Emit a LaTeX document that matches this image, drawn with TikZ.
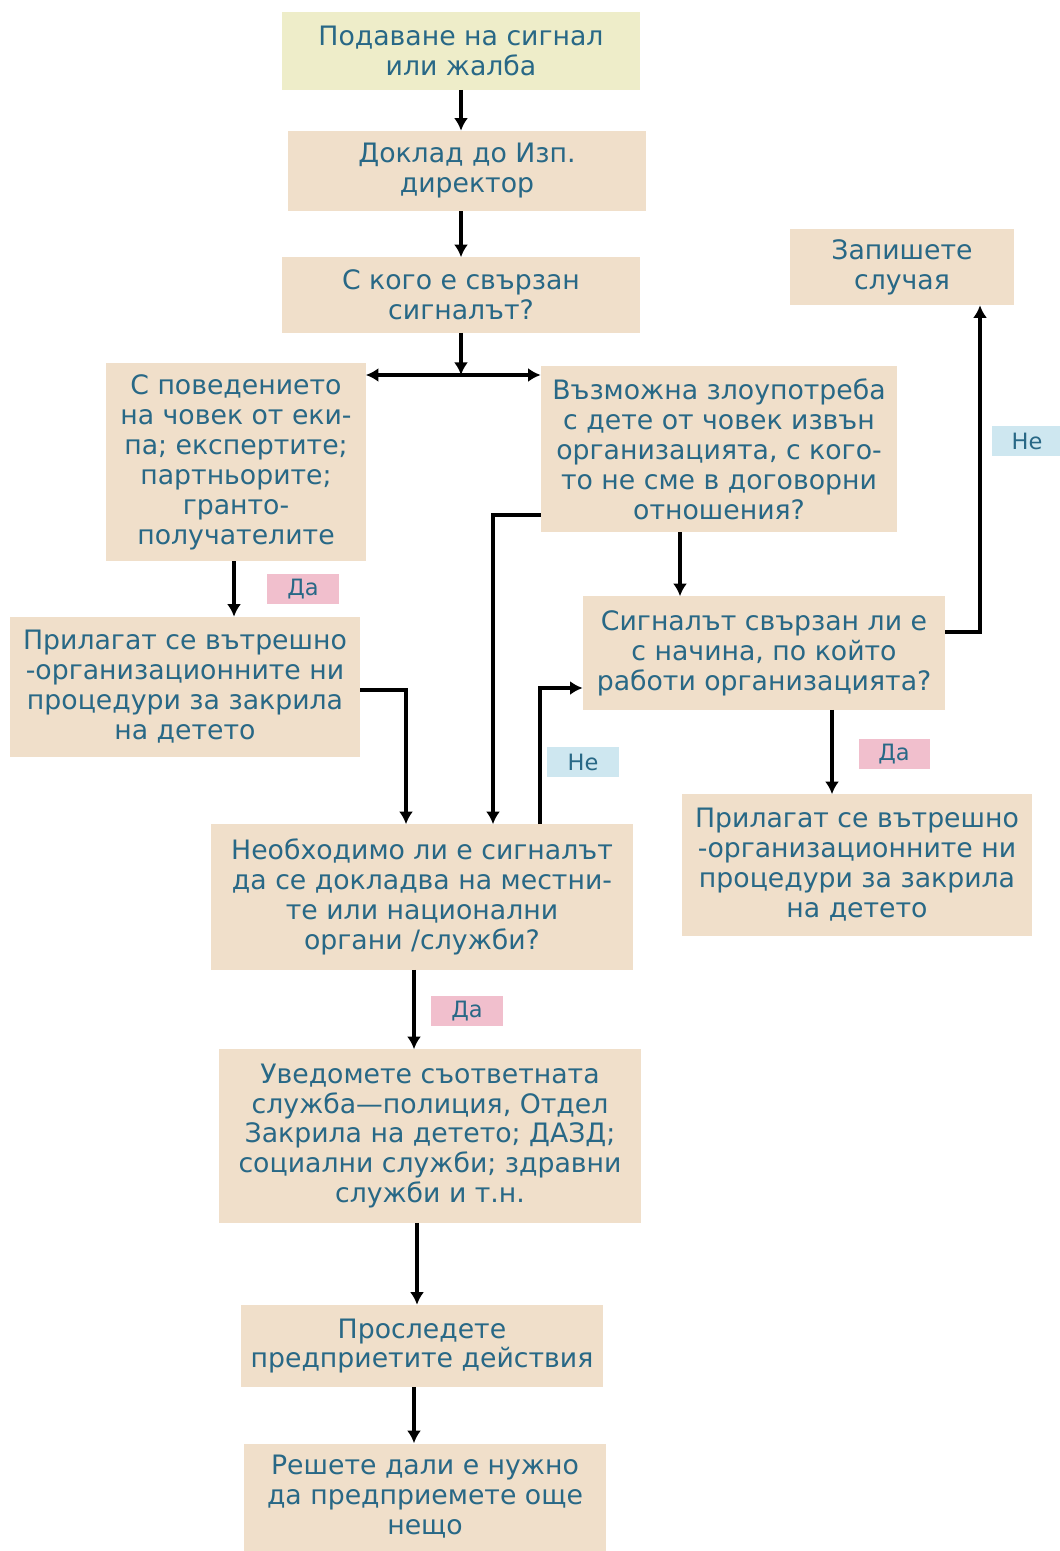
\documentclass[tikz,border=0pt]{standalone}
\usepackage{fontspec}
\setmainfont{DejaVu Sans}
\usetikzlibrary{arrows.meta}
\definecolor{boxfill}{RGB}{240,223,202}
\definecolor{startfill}{RGB}{238,237,201}
\definecolor{txtblue}{RGB}{40,104,134}
\definecolor{yesfill}{RGB}{241,191,205}
\definecolor{nofill}{RGB}{206,231,240}
\tikzset{
  stepbox/.style={fill=boxfill, text=txtblue, align=center, inner sep=0pt,
    font=\fontsize{19}{21.3}\selectfont},
  yes/.style={fill=yesfill, text=txtblue, inner sep=0pt, minimum width=1.775cm,
    minimum height=0.75cm, font=\fontsize{16}{18}\selectfont},
  no/.style={yes, fill=nofill},
  arr/.style={line width=2.4pt, -{Latex[length=9pt,width=10pt]}}
}
\begin{document}
\begin{tikzpicture}[x=0.025cm,y=-0.025cm]
  \useasboundingbox[fill=white] (0,0) rectangle (1059,1551);
  % boxes
  \node[stepbox, fill=startfill, minimum width=8.925cm, minimum height=1.925cm] (signal) at (461,51) {Подаване на сигнал\\или жалба};
  \node[stepbox, minimum width=8.925cm, minimum height=2cm] (director) at (467,171) {Доклад до Изп.\\директор};
  \node[stepbox, minimum width=8.925cm, minimum height=1.875cm] (who) at (461,295) {С кого е свързан\\сигналът?};
  \node[stepbox, minimum width=6.475cm, minimum height=4.95cm] (staff) at (236,462) {С поведението\\на човек от еки-\\па; експертите;\\партньорите;\\гранто-\\получателите};
  \node[stepbox, minimum width=8.9cm, minimum height=4.15cm] (extern) at (719,449) {Възможна злоупотреба\\с дете от човек извън\\организацията, с кого-\\то не сме в договорни\\отношения?};
  \node[stepbox, minimum width=5.575cm, minimum height=1.9cm] (record) at (902,267) {Запишете\\случая};
  \node[stepbox, minimum width=8.75cm, minimum height=3.5cm] (procA) at (185,687) {Прилагат се вътрешно\\-организационните ни\\процедури за закрила\\на детето};
  \node[stepbox, minimum width=9.05cm, minimum height=2.825cm] (check) at (764,653) {Сигналът свързан ли е\\с начина, по който\\работи организацията?};
  \node[stepbox, minimum width=8.75cm, minimum height=3.525cm] (procB) at (857,865) {Прилагат се вътрешно\\-организационните ни\\процедури за закрила\\на детето};
  \node[stepbox, minimum width=10.55cm, minimum height=3.625cm] (report) at (422,897) {Необходимо ли е сигналът\\да се докладва на местни-\\те или национални\\органи /служби?};
  \node[stepbox, minimum width=10.525cm, minimum height=4.325cm] (notify) at (430,1136) {Уведомете съответната\\служба—полиция, Отдел\\Закрила на детето; ДАЗД;\\социални служби; здравни\\служби и т.н.};
  \node[stepbox, minimum width=9.025cm, minimum height=2.05cm] (follow) at (422,1346) {Проследете\\предприетите действия};
  \node[stepbox, minimum width=9.025cm, minimum height=2.675cm] (decide) at (425,1497) {Решете дали е нужно\\да предприемете още\\нещо};
  % labels
  \node[yes] (yesA) at (303,589) {Да};
  \node[no] (noA) at (1027,441) {Не};
  \node[no] (noB) at (583,762) {Не};
  \node[yes] (yesB) at (894,754) {Да};
  \node[yes] (yesC) at (467,1011) {Да};
  % connectors
  \coordinate (split) at (461,375);
  \draw[arr] (signal.south -| 461,0) -- (director.north -| 461,0);
  \draw[arr] (director.south -| 461,0) -- (who.north -| 461,0);
  \draw[arr] (who.south -| 461,0) -- (split);
  \draw[arr, {Latex[length=9pt,width=10pt]}-{Latex[length=9pt,width=10pt]}] (staff.east |- split) -- (extern.west |- split);
  \draw[arr] (staff.south -| 234,0) -- (procA.north -| 234,0);
  \draw[arr] (procA.east |- 0,690) -| (report.north -| 406,0);
  \draw[arr] (extern.west |- 0,515) -| (report.north -| 493,0);
  \draw[arr] (report.north -| 540,0) |- (check.west |- 0,688);
  \draw[arr] (extern.south -| 680,0) -- (check.north -| 680,0);
  \draw[arr] (check.east |- 0,632) -| (record.south -| 980,0);
  \draw[arr] (check.south -| 832,0) -- (procB.north -| 832,0);
  \draw[arr] (report.south -| 414,0) -- (notify.north -| 414,0);
  \draw[arr] (notify.south -| 417,0) -- (follow.north -| 417,0);
  \draw[arr] (follow.south -| 414,0) -- (decide.north -| 414,0);
\end{tikzpicture}
\end{document}
